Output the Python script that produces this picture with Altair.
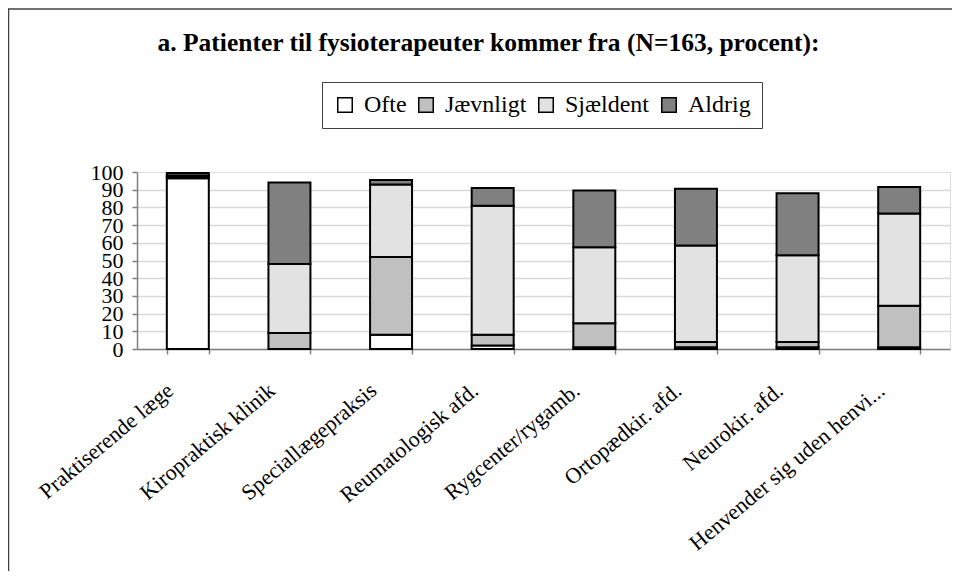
import altair as alt
import pandas as pd

categories = [
    "Praktiserende læge", "Kiropraktisk klinik", "Speciallægepraksis",
    "Reumatologisk afd.", "Rygcenter/rygamb.", "Ortopædkir. afd.",
    "Neurokir. afd.", "Henvender sig uden henvi...",
]
series = ["Ofte", "Jævnligt", "Sjældent", "Aldrig"]
ofte = [96.5, 0, 8, 2, 1, 1, 1, 1]
jaevnligt = [1, 9, 44, 6, 13.5, 3, 3, 23.5]
sjaeldent = [0.5, 39, 41, 73, 43, 54.5, 49, 52]
aldrig = [1.5, 46, 2.5, 10, 32, 32, 35, 15]
colors = ["#ffffff", "#c0c0c0", "#e2e2e2", "#808080"]
y_ticks = [0, 10, 20, 30, 40, 50, 60, 70, 80, 90, 100]

rows = []
for s_i, (s, vals) in enumerate(zip(series, [ofte, jaevnligt, sjaeldent, aldrig])):
    for c, v in zip(categories, vals):
        rows.append({"kategori": c, "serie": s, "procent": v, "orden": s_i})
df = pd.DataFrame(rows)

FONT = "Liberation Serif"

bars = alt.Chart(df).mark_bar(stroke="black", strokeWidth=2).encode(
    x=alt.X(
        "kategori:N", sort=categories, title=None,
        scale=alt.Scale(paddingInner=0.587, paddingOuter=0.2935),
        axis=alt.Axis(
            labelAngle=-40, labelAlign="right", labelBaseline="middle",
            labelFont=FONT, labelFontSize=22, labelColor="black",
            labelPadding=33, labelOffset=-18, labelLimit=400,
            tickBand="extent", tickSize=5, tickColor="#808080", tickWidth=1.5,
            domainColor="#808080", domainWidth=1.5,
        ),
    ),
    y=alt.Y(
        "procent:Q", title=None, stack="zero",
        scale=alt.Scale(domain=[0, 100], nice=False),
        axis=alt.Axis(
            values=y_ticks, labelFont=FONT, labelFontSize=22, labelColor="black",
            labelOverlap=False, labelPadding=9, tickSize=5, tickColor="#808080",
            tickWidth=1.5, domainColor="#808080", domainWidth=1.5,
            grid=True, gridColor="#d9d9d9", gridWidth=1.5,
            gridOpacity={"condition": {"test": "datum.value >= 100", "value": 0}, "value": 1},
        ),
    ),
    color=alt.Color(
        "serie:N", sort=series,
        scale=alt.Scale(domain=series, range=colors),
        legend=alt.Legend(
            title=None, orient="none", legendX=185, legendY=-90,
            direction="horizontal", padding=11,
            strokeColor="#404040", fillColor="white",
            symbolType="square", symbolSize=210, symbolStrokeColor="black",
            symbolStrokeWidth=1.5, symbolOpacity=1,
            labelFont=FONT, labelFontSize=24, labelColor="black",
            labelOffset=7, columnPadding=7,
        ),
    ),
    order=alt.Order("orden:Q", sort="ascending"),
)

frame_df = pd.DataFrame({"f": [0]})
frame_left = alt.Chart(frame_df).mark_rule(color="#404040", strokeWidth=1.5).encode(
    x=alt.value(-128.5), y=alt.value(-163), y2=alt.value(399)
)
frame_top = alt.Chart(frame_df).mark_rule(color="#404040", strokeWidth=1.5).encode(
    x=alt.value(-129), x2=alt.value(830), y=alt.value(-163)
)

chart = alt.layer(frame_left, frame_top, bars).properties(
    width=813, height=177,
    autosize=alt.AutoSizeParams(type="none"),
    padding={"left": 129, "top": 164, "right": 2, "bottom": 222},
    title=alt.TitleParams(
        "a. Patienter til fysioterapeuter kommer fra (N=163, procent):",
        font=FONT, fontSize=25.5, fontWeight="bold", color="black",
        anchor="middle", dx=-55, dy=48, offset=0,
    ),
).configure_view(stroke=None).configure(background="white", font=FONT).configure_legend(
    labelFont=FONT, labelFontSize=24, labelColor="black"
)

chart.save("out.html", embed_options={"renderer": "svg", "actions": False})
